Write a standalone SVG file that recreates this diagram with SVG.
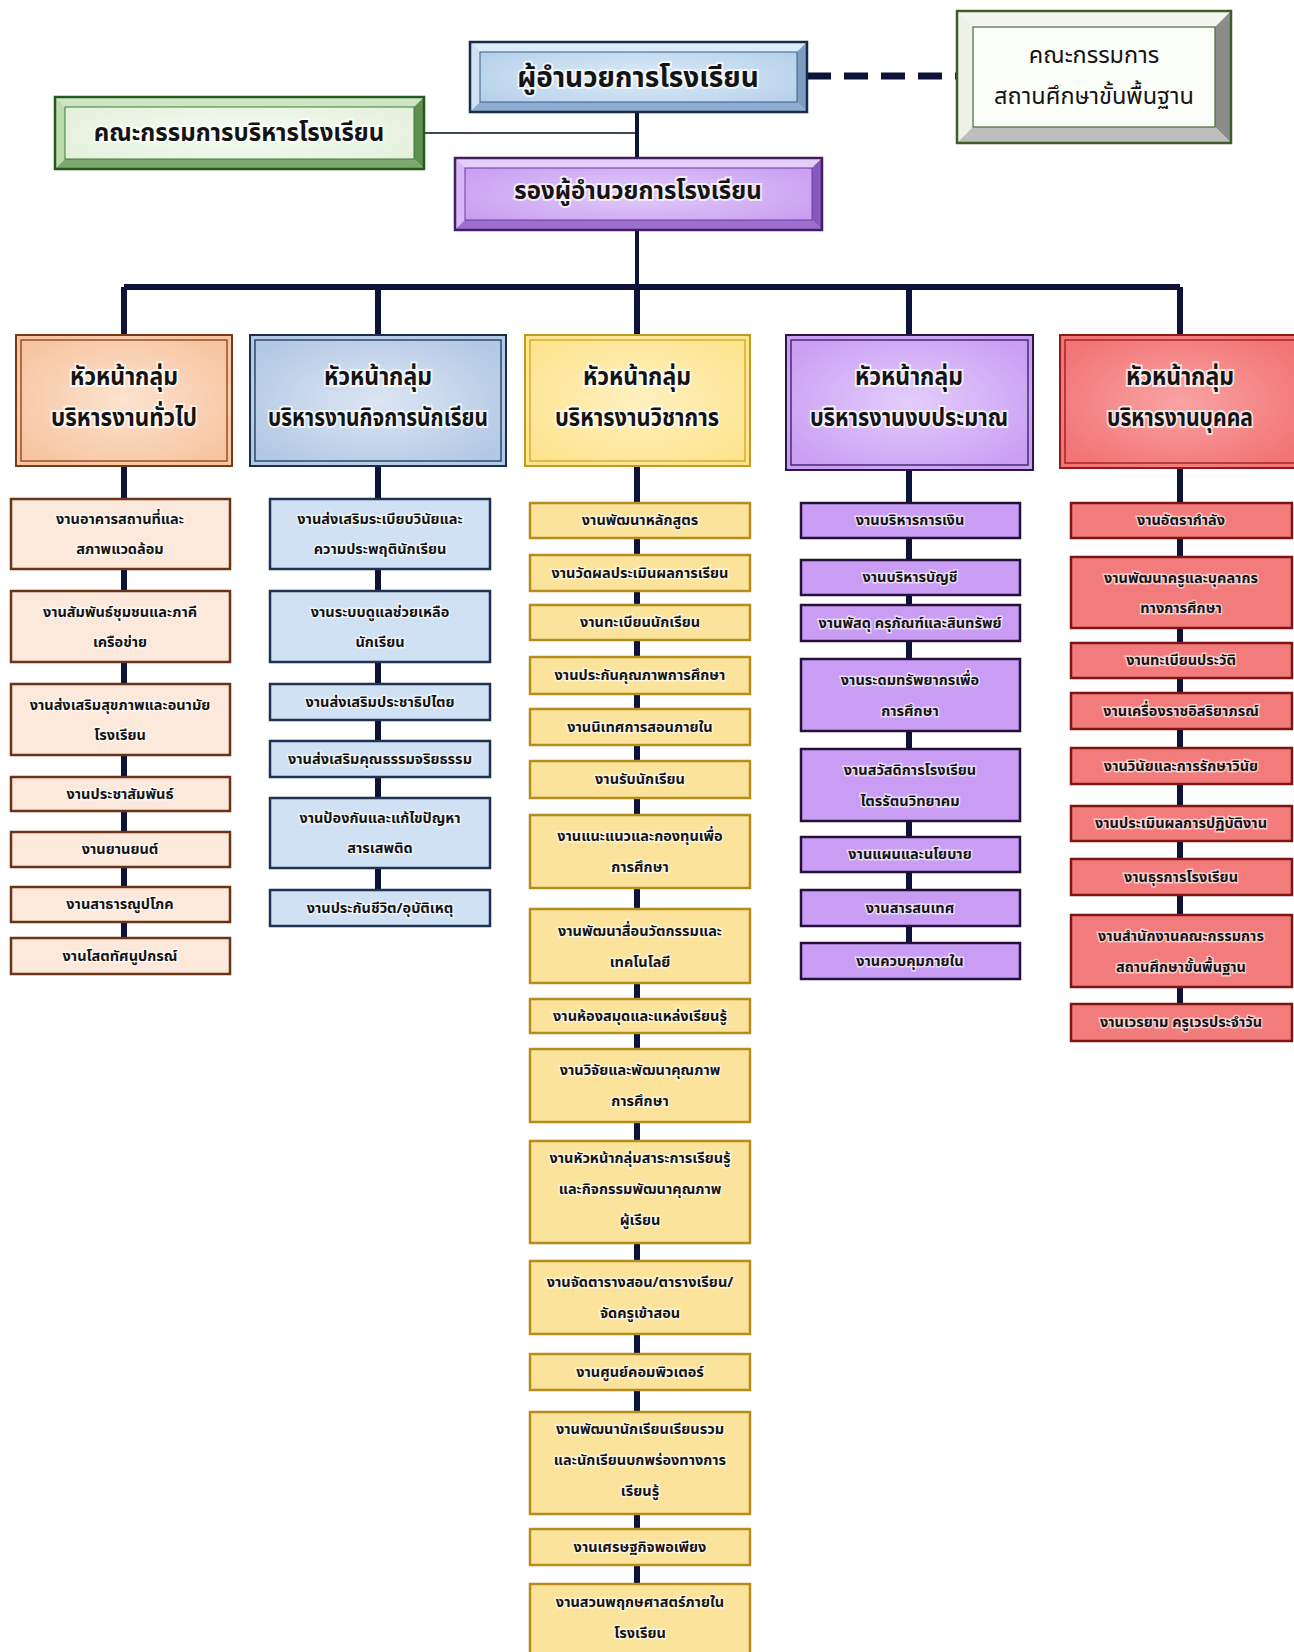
<svg xmlns="http://www.w3.org/2000/svg" width="1294" height="1652" viewBox="0 0 1294 1652">
<defs>
<radialGradient id="gBlue" cx="50%" cy="50%" r="60%"><stop offset="0" stop-color="#dcebf8"/><stop offset="1" stop-color="#b4cfea"/></radialGradient>
<radialGradient id="gPurp" cx="50%" cy="50%" r="60%"><stop offset="0" stop-color="#e2cbfa"/><stop offset="1" stop-color="#c79cf0"/></radialGradient>
<radialGradient id="gGreen" cx="50%" cy="50%" r="60%"><stop offset="0" stop-color="#f6fbf2"/><stop offset="1" stop-color="#e2f0da"/></radialGradient>
<radialGradient id="hOrange" cx="50%" cy="50%" r="60%"><stop offset="0" stop-color="#fde3cf"/><stop offset="1" stop-color="#f6c4a0"/></radialGradient>
<radialGradient id="hBlue" cx="50%" cy="50%" r="60%"><stop offset="0" stop-color="#dbe6f4"/><stop offset="1" stop-color="#b3c8e3"/></radialGradient>
<radialGradient id="hYellow" cx="50%" cy="50%" r="60%"><stop offset="0" stop-color="#fff0bf"/><stop offset="1" stop-color="#fde48f"/></radialGradient>
<radialGradient id="hPurple" cx="50%" cy="50%" r="60%"><stop offset="0" stop-color="#e4cdfb"/><stop offset="1" stop-color="#c99ef4"/></radialGradient>
<radialGradient id="hRed" cx="50%" cy="50%" r="60%"><stop offset="0" stop-color="#f9a3a3"/><stop offset="1" stop-color="#f27474"/></radialGradient>
</defs>
<style>
text{font-family:"Noto Sans Thai","Noto Sans","DejaVu Sans",sans-serif;text-anchor:middle;fill:#141414}
.big{font-size:28px;font-weight:bold;paint-order:stroke;stroke:#ffffff;stroke-width:4px;stroke-opacity:.7}
.mid{font-size:24px;font-weight:bold;paint-order:stroke;stroke:#ffffff;stroke-width:4px;stroke-opacity:.7}
.reg{font-size:23.5px;font-weight:normal}
.head{font-size:25px;font-weight:bold;paint-order:stroke;stroke:#ffffff;stroke-width:4px;stroke-opacity:.75}
.sub{font-size:14.5px;font-weight:bold;paint-order:stroke;stroke:#ffffff;stroke-width:3px;stroke-opacity:.6}
.ln{stroke:#0c1238;fill:none}
.s1{fill:#fde9dc;stroke:#6b3417;stroke-width:2.5}
.s2{fill:#cfe1f3;stroke:#1d3350;stroke-width:2.5}
.s3{fill:#fbe39b;stroke:#b48d1c;stroke-width:2.5}
.s4{fill:#c89df3;stroke:#241038;stroke-width:2.5}
.s5{fill:#f27c7c;stroke:#7f1515;stroke-width:2.5}
</style>
<rect width="1294" height="1652" fill="#ffffff"/>

<g id="connectors">
<line class="ln" x1="807" y1="76" x2="957" y2="76" stroke-width="7" stroke-dasharray="24 13"/>
<line x1="424" y1="133" x2="637" y2="133" stroke="#3d4a58" stroke-width="2"/>
<line class="ln" x1="637" y1="112" x2="637" y2="158" stroke-width="4"/>
<line class="ln" x1="637" y1="230" x2="637" y2="287" stroke-width="4"/>
<line class="ln" x1="124" y1="287" x2="1180" y2="287" stroke-width="6"/>
<line class="ln" x1="124" y1="287" x2="124" y2="940" stroke-width="6"/>
<line class="ln" x1="378" y1="287" x2="378" y2="892" stroke-width="6"/>
<line class="ln" x1="637" y1="287" x2="637" y2="1590" stroke-width="6"/>
<line class="ln" x1="909" y1="287" x2="909" y2="945" stroke-width="6"/>
<line class="ln" x1="1180" y1="287" x2="1180" y2="1006" stroke-width="6"/>
</g>

<g id="director">
<rect x="470" y="42" width="337" height="70" fill="url(#gBlue)"/>
<polygon points="470,42 807,42 797,52 480,52" fill="#dcebf8"/>
<polygon points="470,42 480,52 480,102 470,112" fill="#cfe2f4"/>
<polygon points="807,42 797,52 797,102 807,112" fill="#7c9cc0"/>
<polygon points="470,112 807,112 797,102 480,102" fill="#8eadd0"/>
<rect x="470" y="42" width="337" height="70" fill="none" stroke="#172a48" stroke-width="2.5"/>
<rect x="480" y="52" width="317" height="50" fill="none" stroke="#3a5f8a" stroke-width="1"/>
<text class="big" x="638" y="87">ผู้อำนวยการโรงเรียน</text>
</g>

<g id="basic-committee">
<rect x="957" y="11" width="274" height="132" fill="#fbfdf8"/>
<polygon points="957,11 1231,11 1215,27 973,27" fill="#f3f5ee"/>
<polygon points="957,11 973,27 973,127 957,143" fill="#eef1e8"/>
<polygon points="1231,11 1215,27 1215,127 1231,143" fill="#8c8c8c"/>
<polygon points="957,143 1231,143 1215,127 973,127" fill="#bdbdbd"/>
<rect x="957" y="11" width="274" height="132" fill="none" stroke="#3e5d28" stroke-width="2.5"/>
<rect x="973" y="27" width="242" height="100" fill="none" stroke="#4d6b35" stroke-width="1.2"/>
<text class="reg" x="1094" y="63">คณะกรรมการ</text>
<text class="reg" x="1094" y="104">สถานศึกษาขั้นพื้นฐาน</text>
</g>

<g id="admin-committee">
<rect x="55" y="97" width="369" height="72" fill="url(#gGreen)"/>
<polygon points="55,97 424,97 414,107 65,107" fill="#cde6c1"/>
<polygon points="55,97 65,107 65,159 55,169" fill="#bcdcae"/>
<polygon points="424,97 414,107 414,159 424,169" fill="#5d8f52"/>
<polygon points="55,169 424,169 414,159 65,159" fill="#7aa86f"/>
<rect x="55" y="97" width="369" height="72" fill="none" stroke="#225a22" stroke-width="2.5"/>
<rect x="65" y="107" width="349" height="52" fill="none" stroke="#3e7a3a" stroke-width="1"/>
<text class="mid" x="239" y="141">คณะกรรมการบริหารโรงเรียน</text>
</g>

<g id="deputy">
<rect x="455" y="158" width="367" height="72" fill="url(#gPurp)"/>
<polygon points="455,158 822,158 812,168 465,168" fill="#e4cdfb"/>
<polygon points="455,158 465,168 465,220 455,230" fill="#d8b8f7"/>
<polygon points="822,158 812,168 812,220 822,230" fill="#8758bd"/>
<polygon points="455,230 822,230 812,220 465,220" fill="#9d6fd0"/>
<rect x="455" y="158" width="367" height="72" fill="none" stroke="#42205f" stroke-width="2.5"/>
<rect x="465" y="168" width="347" height="52" fill="none" stroke="#6a3c95" stroke-width="1"/>
<text class="mid" x="638" y="199">รองผู้อำนวยการโรงเรียน</text>
</g>

<g id="head-general">
<rect x="16" y="335" width="216" height="131" fill="url(#hOrange)" stroke="#7a3a17" stroke-width="2"/>
<rect x="21" y="340" width="206" height="121" fill="none" stroke="#9b4e25" stroke-width="1.5"/>
<text class="head" x="124" y="385" textLength="108" lengthAdjust="spacingAndGlyphs">หัวหน้ากลุ่ม</text>
<text class="head" x="124" y="426" textLength="146" lengthAdjust="spacingAndGlyphs">บริหารงานทั่วไป</text>
</g>
<g id="head-student">
<rect x="250" y="335" width="256" height="131" fill="url(#hBlue)" stroke="#1b2f4d" stroke-width="2"/>
<rect x="255" y="340" width="246" height="121" fill="none" stroke="#2a4a73" stroke-width="1.5"/>
<text class="head" x="378" y="385" textLength="108" lengthAdjust="spacingAndGlyphs">หัวหน้ากลุ่ม</text>
<text class="head" x="378" y="426" textLength="220" lengthAdjust="spacingAndGlyphs">บริหารงานกิจการนักเรียน</text>
</g>
<g id="head-academic">
<rect x="525" y="335" width="225" height="131" fill="url(#hYellow)" stroke="#c29a22" stroke-width="2"/>
<rect x="530" y="340" width="215" height="121" fill="none" stroke="#d4ae34" stroke-width="1.5"/>
<text class="head" x="637" y="385" textLength="108" lengthAdjust="spacingAndGlyphs">หัวหน้ากลุ่ม</text>
<text class="head" x="637" y="426" textLength="164" lengthAdjust="spacingAndGlyphs">บริหารงานวิชาการ</text>
</g>
<g id="head-budget">
<rect x="786" y="335" width="247" height="135" fill="url(#hPurple)" stroke="#2e1646" stroke-width="2"/>
<rect x="791" y="340" width="237" height="125" fill="none" stroke="#4b2a6e" stroke-width="1.5"/>
<text class="head" x="909" y="385" textLength="108" lengthAdjust="spacingAndGlyphs">หัวหน้ากลุ่ม</text>
<text class="head" x="909" y="426" textLength="198" lengthAdjust="spacingAndGlyphs">บริหารงานงบประมาณ</text>
</g>
<g id="head-personnel">
<rect x="1060" y="335" width="240" height="133" fill="url(#hRed)" stroke="#8e1a1a" stroke-width="2"/>
<rect x="1065" y="340" width="240" height="123" fill="none" stroke="#a82424" stroke-width="1.5"/>
<text class="head" x="1180" y="385" textLength="108" lengthAdjust="spacingAndGlyphs">หัวหน้ากลุ่ม</text>
<text class="head" x="1180" y="426" textLength="146" lengthAdjust="spacingAndGlyphs">บริหารงานบุคคล</text>
</g>

<!-- Column 1 -->
<g id="c1-1"><rect class="s1" x="11" y="499" width="219" height="70"/><text class="sub" x="120" y="524">งานอาคารสถานที่และ</text><text class="sub" x="120" y="554">สภาพแวดล้อม</text></g>
<g id="c1-2"><rect class="s1" x="11" y="591" width="219" height="71"/><text class="sub" x="120" y="617">งานสัมพันธ์ชุมชนและภาคี</text><text class="sub" x="120" y="647">เครือข่าย</text></g>
<g id="c1-3"><rect class="s1" x="11" y="684" width="219" height="71"/><text class="sub" x="120" y="710">งานส่งเสริมสุขภาพและอนามัย</text><text class="sub" x="120" y="740">โรงเรียน</text></g>
<g id="c1-4"><rect class="s1" x="11" y="777" width="219" height="34"/><text class="sub" x="120" y="799">งานประชาสัมพันธ์</text></g>
<g id="c1-5"><rect class="s1" x="11" y="832" width="219" height="35"/><text class="sub" x="120" y="854">งานยานยนต์</text></g>
<g id="c1-6"><rect class="s1" x="11" y="887" width="219" height="35"/><text class="sub" x="120" y="909">งานสาธารณูปโภค</text></g>
<g id="c1-7"><rect class="s1" x="11" y="938" width="219" height="36"/><text class="sub" x="120" y="961">งานโสตทัศนูปกรณ์</text></g>

<!-- Column 2 -->
<g id="c2-1"><rect class="s2" x="270" y="499" width="220" height="70"/><text class="sub" x="380" y="524">งานส่งเสริมระเบียบวินัยและ</text><text class="sub" x="380" y="554">ความประพฤตินักเรียน</text></g>
<g id="c2-2"><rect class="s2" x="270" y="591" width="220" height="71"/><text class="sub" x="380" y="617">งานระบบดูแลช่วยเหลือ</text><text class="sub" x="380" y="647">นักเรียน</text></g>
<g id="c2-3"><rect class="s2" x="270" y="684" width="220" height="36"/><text class="sub" x="380" y="707">งานส่งเสริมประชาธิปไตย</text></g>
<g id="c2-4"><rect class="s2" x="270" y="741" width="220" height="36"/><text class="sub" x="380" y="764">งานส่งเสริมคุณธรรมจริยธรรม</text></g>
<g id="c2-5"><rect class="s2" x="270" y="798" width="220" height="70"/><text class="sub" x="380" y="823">งานป้องกันและแก้ไขปัญหา</text><text class="sub" x="380" y="853">สารเสพติด</text></g>
<g id="c2-6"><rect class="s2" x="270" y="890" width="220" height="36"/><text class="sub" x="380" y="913">งานประกันชีวิต/อุบัติเหตุ</text></g>

<!-- Column 3 -->
<g id="c3-1"><rect class="s3" x="530" y="503" width="220" height="35"/><text class="sub" x="640" y="525">งานพัฒนาหลักสูตร</text></g>
<g id="c3-2"><rect class="s3" x="530" y="555" width="220" height="36"/><text class="sub" x="640" y="578">งานวัดผลประเมินผลการเรียน</text></g>
<g id="c3-3"><rect class="s3" x="530" y="605" width="220" height="35"/><text class="sub" x="640" y="627">งานทะเบียนนักเรียน</text></g>
<g id="c3-4"><rect class="s3" x="530" y="657" width="220" height="37"/><text class="sub" x="640" y="680">งานประกันคุณภาพการศึกษา</text></g>
<g id="c3-5"><rect class="s3" x="530" y="709" width="220" height="36"/><text class="sub" x="640" y="732">งานนิเทศการสอนภายใน</text></g>
<g id="c3-6"><rect class="s3" x="530" y="761" width="220" height="37"/><text class="sub" x="640" y="784">งานรับนักเรียน</text></g>
<g id="c3-7"><rect class="s3" x="530" y="815" width="220" height="73"/><text class="sub" x="640" y="841">งานแนะแนวและกองทุนเพื่อ</text><text class="sub" x="640" y="872">การศึกษา</text></g>
<g id="c3-8"><rect class="s3" x="530" y="909" width="220" height="74"/><text class="sub" x="640" y="936">งานพัฒนาสื่อนวัตกรรมและ</text><text class="sub" x="640" y="967">เทคโนโลยี</text></g>
<g id="c3-9"><rect class="s3" x="530" y="999" width="220" height="34"/><text class="sub" x="640" y="1021">งานห้องสมุดและแหล่งเรียนรู้</text></g>
<g id="c3-10"><rect class="s3" x="530" y="1049" width="220" height="73"/><text class="sub" x="640" y="1075">งานวิจัยและพัฒนาคุณภาพ</text><text class="sub" x="640" y="1106">การศึกษา</text></g>
<g id="c3-11"><rect class="s3" x="530" y="1141" width="220" height="102"/><text class="sub" x="640" y="1163">งานหัวหน้ากลุ่มสาระการเรียนรู้</text><text class="sub" x="640" y="1194">และกิจกรรมพัฒนาคุณภาพ</text><text class="sub" x="640" y="1225">ผู้เรียน</text></g>
<g id="c3-12"><rect class="s3" x="530" y="1261" width="220" height="73"/><text class="sub" x="640" y="1287">งานจัดตารางสอน/ตารางเรียน/</text><text class="sub" x="640" y="1318">จัดครูเข้าสอน</text></g>
<g id="c3-13"><rect class="s3" x="530" y="1354" width="220" height="36"/><text class="sub" x="640" y="1377">งานศูนย์คอมพิวเตอร์</text></g>
<g id="c3-14"><rect class="s3" x="530" y="1412" width="220" height="102"/><text class="sub" x="640" y="1434">งานพัฒนานักเรียนเรียนรวม</text><text class="sub" x="640" y="1465">และนักเรียนบกพร่องทางการ</text><text class="sub" x="640" y="1496">เรียนรู้</text></g>
<g id="c3-15"><rect class="s3" x="530" y="1529" width="220" height="36"/><text class="sub" x="640" y="1552">งานเศรษฐกิจพอเพียง</text></g>
<g id="c3-16"><rect class="s3" x="530" y="1584" width="220" height="74"/><text class="sub" x="640" y="1607">งานสวนพฤกษศาสตร์ภายใน</text><text class="sub" x="640" y="1638">โรงเรียน</text></g>

<!-- Column 4 -->
<g id="c4-1"><rect class="s4" x="801" y="503" width="219" height="35"/><text class="sub" x="910" y="525">งานบริหารการเงิน</text></g>
<g id="c4-2"><rect class="s4" x="801" y="560" width="219" height="35"/><text class="sub" x="910" y="582">งานบริหารบัญชี</text></g>
<g id="c4-3"><rect class="s4" x="801" y="605" width="219" height="36"/><text class="sub" x="910" y="628">งานพัสดุ ครุภัณฑ์และสินทรัพย์</text></g>
<g id="c4-4"><rect class="s4" x="801" y="659" width="219" height="72"/><text class="sub" x="910" y="685">งานระดมทรัพยากรเพื่อ</text><text class="sub" x="910" y="716">การศึกษา</text></g>
<g id="c4-5"><rect class="s4" x="801" y="749" width="219" height="72"/><text class="sub" x="910" y="775">งานสวัสดิการโรงเรียน</text><text class="sub" x="910" y="806">ไตรรัตนวิทยาคม</text></g>
<g id="c4-6"><rect class="s4" x="801" y="837" width="219" height="35"/><text class="sub" x="910" y="859">งานแผนและนโยบาย</text></g>
<g id="c4-7"><rect class="s4" x="801" y="890" width="219" height="36"/><text class="sub" x="910" y="913">งานสารสนเทศ</text></g>
<g id="c4-8"><rect class="s4" x="801" y="943" width="219" height="36"/><text class="sub" x="910" y="966">งานควบคุมภายใน</text></g>

<!-- Column 5 -->
<g id="c5-1"><rect class="s5" x="1071" y="503" width="221" height="35"/><text class="sub" x="1181" y="525">งานอัตรากำลัง</text></g>
<g id="c5-2"><rect class="s5" x="1071" y="557" width="221" height="71"/><text class="sub" x="1181" y="583">งานพัฒนาครูและบุคลากร</text><text class="sub" x="1181" y="613">ทางการศึกษา</text></g>
<g id="c5-3"><rect class="s5" x="1071" y="643" width="221" height="35"/><text class="sub" x="1181" y="665">งานทะเบียนประวัติ</text></g>
<g id="c5-4"><rect class="s5" x="1071" y="693" width="221" height="36"/><text class="sub" x="1181" y="716">งานเครื่องราชอิสริยาภรณ์</text></g>
<g id="c5-5"><rect class="s5" x="1071" y="748" width="221" height="36"/><text class="sub" x="1181" y="771">งานวินัยและการรักษาวินัย</text></g>
<g id="c5-6"><rect class="s5" x="1071" y="806" width="221" height="35"/><text class="sub" x="1181" y="828">งานประเมินผลการปฏิบัติงาน</text></g>
<g id="c5-7"><rect class="s5" x="1071" y="859" width="221" height="36"/><text class="sub" x="1181" y="882">งานธุรการโรงเรียน</text></g>
<g id="c5-8"><rect class="s5" x="1071" y="915" width="221" height="72"/><text class="sub" x="1181" y="941">งานสำนักงานคณะกรรมการ</text><text class="sub" x="1181" y="972">สถานศึกษาขั้นพื้นฐาน</text></g>
<g id="c5-9"><rect class="s5" x="1071" y="1004" width="221" height="37"/><text class="sub" x="1181" y="1027">งานเวรยาม ครูเวรประจำวัน</text></g>
</svg>
